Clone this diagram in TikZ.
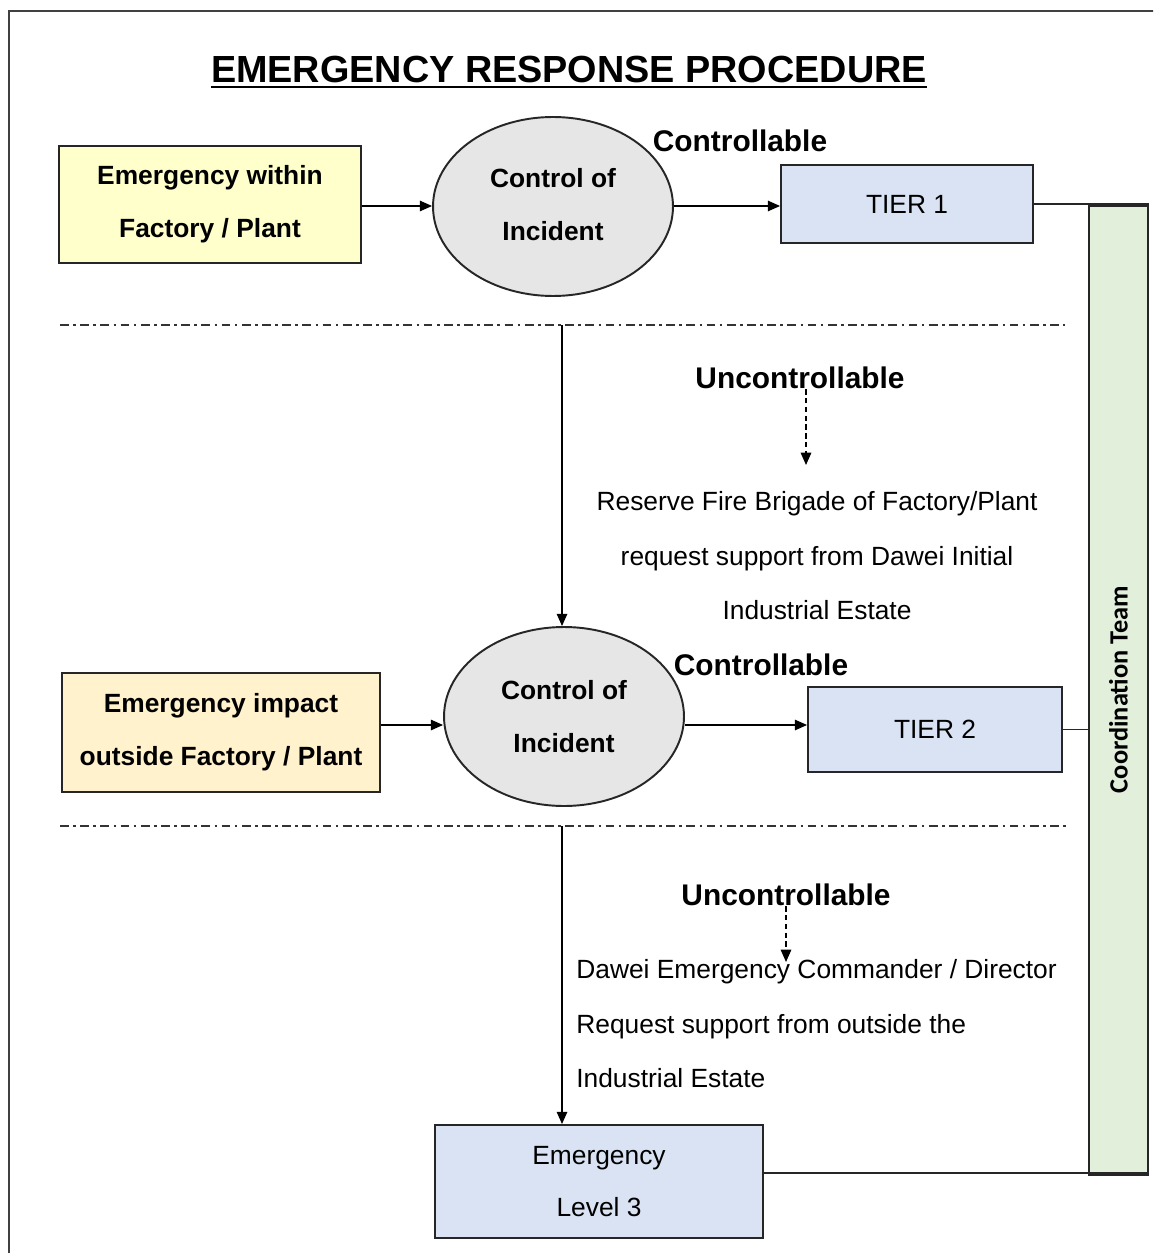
\documentclass[tikz,border=0pt]{standalone}
\usepackage{fontspec}
\setmainfont{Liberation Sans}
\newfontfamily\calib{Carlito}
\usetikzlibrary{shapes.geometric,arrows.meta}
\definecolor{boxyellow}{HTML}{FFFFCC}
\definecolor{boxorange}{HTML}{FFF2CC}
\definecolor{ellgrey}{HTML}{E7E6E6}
\definecolor{boxblue}{HTML}{DAE3F3}
\definecolor{bargreen}{HTML}{E2EFDA}
\definecolor{edge}{HTML}{262626}
\begin{document}
\begin{tikzpicture}[x=0.02cm,y=-0.02cm,
  every node/.style={inner sep=0pt},
  boxbase/.style={draw=edge, line width=1.1pt, align=center},
  boldtxt/.style={font=\bfseries\fontsize{15}{30}\selectfont},
  regtxt/.style={font=\fontsize{15}{30}\selectfont},
  srcbox/.style={boxbase, boldtxt},
  tierbox/.style={boxbase, regtxt, fill=boxblue},
  ellbox/.style={ellipse, draw=edge, line width=1.1pt, fill=ellgrey, align=center, boldtxt, minimum width=4.8cm, minimum height=3.58cm},
  lbl/.style={font=\bfseries\fontsize{17}{20}\selectfont},
  para/.style={font=\fontsize{15}{31}\selectfont},
  arr/.style={draw=black, line width=0.8pt, -{Triangle[length=7pt,width=6pt]}},
  dasharr/.style={draw=black, line width=0.7pt, dash pattern=on 3pt off 2pt, -{Triangle[length=7pt,width=6pt]}},
  link/.style={draw=edge, line width=0.9pt},
  sep/.style={draw=black!80, line width=1.2pt, dash pattern=on 5pt off 2.5pt on 1.5pt off 2.5pt}
]
\clip (0,0) rectangle (1153,1253);
\fill[white] (0,0) rectangle (1153,1253);
% outer frame
\draw[black!75, line width=1.3pt] (9,11) rectangle (1180,1280);

% title
\node[font=\bfseries\fontsize{21.5}{26}\selectfont] (title) at (569,70) {EMERGENCY RESPONSE PROCEDURE};
\draw[black, line width=1.1pt] ([yshift=-2pt]title.south west) -- ([yshift=-2pt]title.south east);

% tier 1 row
\node[srcbox, fill=boxyellow, minimum width=6.04cm, minimum height=2.34cm] (src1) at (210,204.5) {Emergency within\\Factory / Plant};
\node[ellbox] (ell1) at (553,206.5) {\raisebox{2pt}{Control of}\\\raisebox{2pt}{Incident}};
\node[tierbox, minimum width=5.04cm, minimum height=1.56cm] (t1) at (907,204) {TIER 1};
\node[lbl] (ctrl1) at (740,141) {Controllable};

% coordination bar
\node[boxbase, fill=bargreen, rotate=90, minimum width=19.34cm, minimum height=1.18cm, font=\calib\bfseries\fontsize{15}{18}\selectfont] (bar) at (1118.5,689.5) {Coordination Team};
\draw[edge, line width=2pt] (bar.north west) -- (bar.south west);
\draw[edge, line width=2pt] (bar.north east) -- (bar.south east);

% separator 1
\draw[sep] (60,325) -- (1065,325);

\node[lbl] (unc1) at (800,378) {Uncontrollable};
\coordinate (d1) at (806,465);
\draw[dasharr] (unc1.south -| d1) -- (d1);
\node[para, align=center] (res1) at (817,556) {Reserve Fire Brigade of Factory/Plant\\request support from Dawei Initial\\Industrial Estate};

% tier 2 row
\node[srcbox, fill=boxorange, minimum width=6.36cm, minimum height=2.38cm] (src2) at (221,732.5) {Emergency impact\\outside Factory / Plant};
\node[ellbox] (ell2) at (564,716.5) {Control of\\Incident};
\node[tierbox, minimum width=5.08cm, minimum height=1.7cm] (t2) at (935,729.5) {TIER 2};
\node[lbl] (ctrl2) at (761,665) {Controllable};

% separator 2
\draw[sep] (60,826) -- (1068,826);

\node[lbl] (unc2) at (786,895) {Uncontrollable};
\coordinate (d2) at (786,962);
\draw[dasharr] (unc2.south -| d2) -- (d2);
\node[para, align=left, anchor=west] (res2) at (576,1024) {Dawei Emergency Commander / Director\\Request support from outside the\\Industrial Estate};

% level 3
\node[tierbox, minimum width=6.56cm, minimum height=2.26cm] (l3) at (599,1181.5) {\raisebox{-2pt}{Emergency}\\\raisebox{-2pt}{Level 3}};

% connectors
\coordinate (r1) at (0,206);
\coordinate (r2) at (0,725);
\coordinate (r3) at (0,1173);
\draw[arr] (src1.east |- r1) -- (ell1.west |- r1);
\draw[arr] (ell1.east |- r1) -- (t1.west |- r1);
\draw[arr] (src2.east |- r2) -- (ell2.west |- r2);
\draw[arr] (ell2.east |- r2) -- (t2.west |- r2);
\coordinate (v1) at (562,325);
\draw[arr] (v1) -- (v1 |- ell2.north);
\coordinate (v2) at (562,826);
\draw[arr] (v2) -- (v2 |- l3.north);
\draw[link] (t1.east) -- (t1.east -| bar.north);
\draw[link] (t2.east) -- (t2.east -| bar.north);
\draw[link] (l3.east |- r3) -- (bar.north |- r3);
\end{tikzpicture}
\end{document}
